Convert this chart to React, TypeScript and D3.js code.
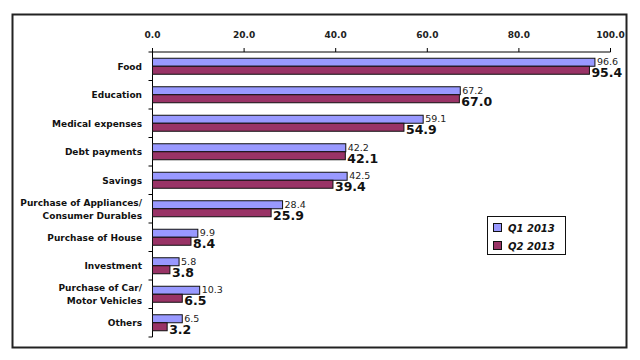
import React from "react";
import * as d3 from "d3";

const categories = [
  ["Food"],
  ["Education"],
  ["Medical expenses"],
  ["Debt payments"],
  ["Savings"],
  ["Purchase of Appliances/", "Consumer Durables"],
  ["Purchase of House"],
  ["Investment"],
  ["Purchase of Car/", "Motor Vehicles"],
  ["Others"],
];
const q1Values = [96.6, 67.2, 59.1, 42.2, 42.5, 28.4, 9.9, 5.8, 10.3, 6.5];
const q2Values = [95.4, 67.0, 54.9, 42.1, 39.4, 25.9, 8.4, 3.8, 6.5, 3.2];
const xTicks = [0, 20, 40, 60, 80, 100];
const seriesNames = ["Q1 2013", "Q2 2013"];

const W = 640;
const H = 360;
const left = 152.5;
const right = 610.5;
const top = 52;
const bottom = 337;

export default function App() {
  const x = d3.scaleLinear().domain([0, 100]).range([left, right]);
  const keys = categories.map((_, i) => String(i));
  const y = d3.scaleBand().domain(keys).range([top, bottom]).paddingInner(0).paddingOuter(0);
  const bw = y.bandwidth();
  const barH = 8;
  const font = "'DejaVu Sans', Verdana, sans-serif";
  const boundaries = d3.range(categories.length + 1).map((i) => top + i * bw);

  return (
    <div style={{ position: "absolute", left: 0, top: 0 }}>
      <svg width={W} height={H} style={{ display: "block" }}>
        <rect x={0} y={0} width={W} height={H} fill="#fff" />
        <rect x={12.5} y={14.5} width={614} height={333} fill="#fff" stroke="#222" strokeWidth={2} />
        {/* x axis */}
        <line x1={left} x2={right} y1={top} y2={top} stroke="#000" strokeWidth={1} />
        {xTicks.map((t) => (
          <g key={t}>
            <line x1={x(t)} x2={x(t)} y1={top - 4} y2={top} stroke="#000" />
            <text x={x(t)} y={38} textAnchor="middle" fontSize={9} fontWeight="bold" fontFamily={font} fill="#222">
              {t.toFixed(1)}
            </text>
          </g>
        ))}
        {/* y axis */}
        <line x1={left} x2={left} y1={top} y2={bottom} stroke="#000" />
        {boundaries.map((b, i) => (
          <line key={i} x1={left - 4} x2={left} y1={b} y2={b} stroke="#000" />
        ))}
        {categories.map((lines, i) => {
          const cy = (y(String(i)) as number) + bw / 2;
          const y1 = cy - barH;
          const y2 = cy;
          return (
            <g key={i}>
              <text textAnchor="end" fontSize={9} fontWeight="bold" fontFamily={font} fill="#111">
                {lines.map((ln, j) => (
                  <tspan key={j} x={142} y={cy + 3.5 + (j - (lines.length - 1) / 2) * 13}>
                    {ln}
                  </tspan>
                ))}
              </text>
              <rect x={x(0)} y={y1} width={x(q1Values[i]) - x(0)} height={barH} fill="#9999FF" stroke="#111" strokeWidth={1} />
              <rect x={x(0)} y={y2} width={x(q2Values[i]) - x(0)} height={barH} fill="#993366" stroke="#111" strokeWidth={1} />
              <text x={x(q1Values[i]) + 2} y={y1 + 7} fontSize={9.5} fontFamily={font} fill="#222">
                {q1Values[i].toFixed(1)}
              </text>
              <text x={x(q2Values[i]) + 2} y={y2 + 11} fontSize={12.5} fontWeight="bold" fontFamily={font} fill="#111">
                {q2Values[i].toFixed(1)}
              </text>
            </g>
          );
        })}
        {/* legend */}
        <rect x={487.5} y={216.5} width={78} height={38} fill="#fff" stroke="#111" strokeWidth={1} />
        {seriesNames.map((s, i) => (
          <g key={s}>
            <rect x={493.5} y={223.5 + i * 18} width={8} height={8} fill={i === 0 ? "#9999FF" : "#993366"} stroke="#111" />
            <text x={508} y={232 + i * 18} fontSize={10} fontWeight="bold" fontStyle="italic" fontFamily={font} fill="#111">
              {s}
            </text>
          </g>
        ))}
      </svg>
    </div>
  );
}
